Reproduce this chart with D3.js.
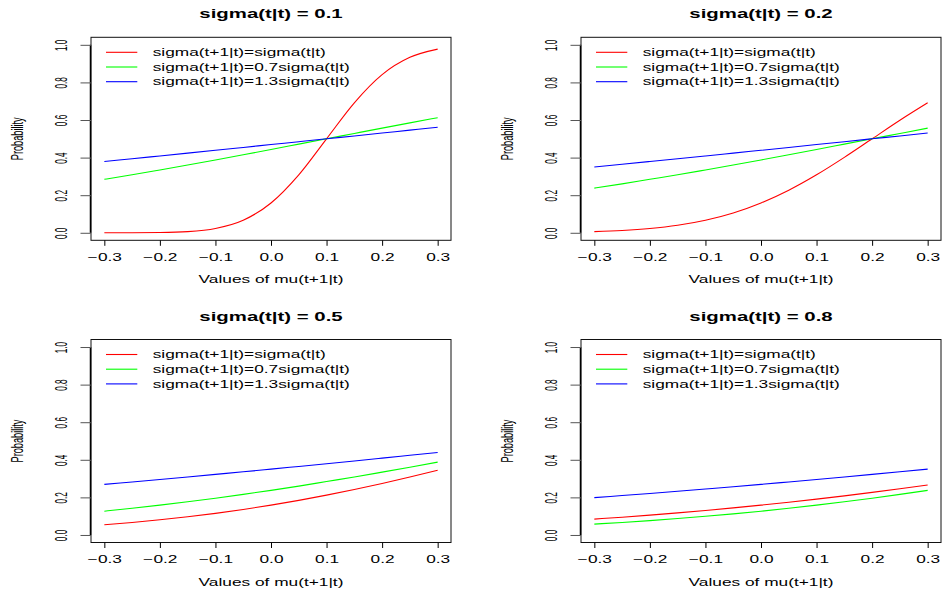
<!DOCTYPE html>
<html>
<head>
<meta charset="utf-8">
<script src="https://cdn.jsdelivr.net/npm/d3@7"></script>
<style>
  body { margin: 0; background: #fff; }
  svg { display: block; }
  text { font-family: "Liberation Sans", Arial, Helvetica, sans-serif; fill: #000; }
</style>
</head>
<body>
<svg id="chart"></svg>
<script>
//values of mu(t+1|t) on the x axis
var muValues = [-0.3, -0.25, -0.2, -0.15, -0.1, -0.05, 0, 0.05, 0.1, 0.15, 0.2, 0.25, 0.3];
var xTicks = [-0.3, -0.2, -0.1, 0, 0.1, 0.2, 0.3];
var yTicks = [0, 0.2, 0.4, 0.6, 0.8, 1];

var panelTitles = ['sigma(t|t) = 0.1', 'sigma(t|t) = 0.2', 'sigma(t|t) = 0.5', 'sigma(t|t) = 0.8'];
var legendLabels = ['sigma(t+1|t)=sigma(t|t)', 'sigma(t+1|t)=0.7sigma(t|t)', 'sigma(t+1|t)=1.3sigma(t|t)'];
var xLabel = 'Values of mu(t+1|t)';
var yLabel = 'Probability';

//probabilities (same, 0.7 and 1.3 sigma)
var sigma01Same   = [0.0000, 0.0002, 0.0013, 0.0062, 0.0228, 0.0668, 0.1587, 0.3085, 0.5000, 0.6915, 0.8413, 0.9332, 0.9772];
var sigma01Narrow = [0.2844, 0.3085, 0.3343, 0.3606, 0.3876, 0.4152, 0.4432, 0.4716, 0.5000, 0.5284, 0.5568, 0.5848, 0.6124];
var sigma01Wide   = [0.3792, 0.3939, 0.4088, 0.4238, 0.4389, 0.4541, 0.4694, 0.4847, 0.5000, 0.5153, 0.5306, 0.5459, 0.5611];

var sigma02Same   = [0.0062, 0.0122, 0.0228, 0.0401, 0.0668, 0.1056, 0.1587, 0.2266, 0.3085, 0.4013, 0.5000, 0.5987, 0.6915];
var sigma02Narrow = [0.2375, 0.2601, 0.2844, 0.3085, 0.3343, 0.3606, 0.3876, 0.4152, 0.4432, 0.4716, 0.5000, 0.5284, 0.5568];
var sigma02Wide   = [0.3503, 0.3647, 0.3792, 0.3939, 0.4088, 0.4238, 0.4389, 0.4541, 0.4694, 0.4847, 0.5000, 0.5153, 0.5306];

var sigma05Same   = [0.0548, 0.0668, 0.0808, 0.0968, 0.1151, 0.1357, 0.1587, 0.1841, 0.2119, 0.2420, 0.2743, 0.3085, 0.3446];
var sigma05Narrow = [0.1266, 0.1420, 0.1587, 0.1766, 0.1957, 0.2160, 0.2375, 0.2601, 0.2844, 0.3085, 0.3343, 0.3606, 0.3876];
var sigma05Wide   = [0.2691, 0.2820, 0.2951, 0.3085, 0.3222, 0.3361, 0.3503, 0.3647, 0.3792, 0.3939, 0.4088, 0.4238, 0.4389];

var sigma08Same   = [0.0846, 0.0947, 0.1056, 0.1175, 0.1303, 0.1440, 0.1587, 0.1743, 0.1908, 0.2083, 0.2266, 0.2459, 0.2660];
var sigma08Narrow = [0.0580, 0.0668, 0.0766, 0.0874, 0.0993, 0.1123, 0.1266, 0.1420, 0.1587, 0.1766, 0.1957, 0.2160, 0.2375];
var sigma08Wide   = [0.1988, 0.2097, 0.2208, 0.2325, 0.2444, 0.2566, 0.2691, 0.2820, 0.2951, 0.3085, 0.3222, 0.3361, 0.3503];

var panelSeries = [
    [sigma01Same, sigma01Narrow, sigma01Wide],
    [sigma02Same, sigma02Narrow, sigma02Wide],
    [sigma05Same, sigma05Narrow, sigma05Wide],
    [sigma08Same, sigma08Narrow, sigma08Wide]
];

var lineColors = ['#ff0000', '#00ff00', '#0000ff'];

var svg = d3.select('#chart')
    .attr('width', 944)
    .attr('height', 595);

//plot boxes of the 2x2 layout
var boxLefts = [91, 581],
    boxTops = [37.3, 339.5],
    boxWidth = 360,
    boxHeight = 203;

//text is drawn stretched like the original picture
var hStretch = 'scale(1.73,1)';

function drawPanel(i) {
    var left = boxLefts[i % 2],
        top = boxTops[Math.floor(i / 2)],
        bottom = top + boxHeight;

    var x = d3.scaleLinear().domain([-0.324, 0.324]).range([left, left + boxWidth]);
    var y = d3.scaleLinear().domain([-0.04, 1.04]).range([bottom, top]);

    var g = svg.append('g').attr('class', 'panel');

    //curves
    var line = d3.line()
        .x(function(d, j) { return x(muValues[j]); })
        .y(function(d) { return y(d); })
        .curve(d3.curveMonotoneX);

    g.selectAll('path.series')
        .data(panelSeries[i])
        .enter().append('path')
            .attr('class', 'series')
            .attr('fill', 'none')
            .attr('stroke', function(d, k) { return lineColors[k]; })
            .attr('stroke-width', 1.1)
            .attr('d', line);

    //box
    g.append('rect')
        .attr('x', left)
        .attr('y', top)
        .attr('width', boxWidth)
        .attr('height', boxHeight)
        .attr('fill', 'none')
        .attr('stroke', '#111')
        .attr('stroke-width', 1);

    //thicker y axis line along the left edge
    g.append('line')
        .attr('x1', left - 0.5).attr('x2', left - 0.5)
        .attr('y1', y(0)).attr('y2', y(1))
        .attr('stroke', '#000')
        .attr('stroke-width', 1.5);

    //x axis
    var xAxis = g.append('g')
        .attr('transform', 'translate(0,' + bottom + ')')
        .call(d3.axisBottom(x).tickValues(xTicks).tickSize(5.5).tickFormat(d3.format('.1f')));
    xAxis.select('.domain').remove();
    xAxis.selectAll('.tick line').attr('stroke', '#000');
    xAxis.selectAll('.tick text')
        .attr('y', null).attr('dy', null)
        .attr('font-size', 10)
        .attr('fill', '#000')
        .attr('transform', 'translate(0,20.5) ' + hStretch);

    //y axis
    var yAxis = g.append('g')
        .attr('transform', 'translate(' + left + ',0)')
        .call(d3.axisLeft(y).tickValues(yTicks).tickSize(10.5).tickFormat(d3.format('.1f')));
    yAxis.select('.domain').remove();
    yAxis.selectAll('.tick line').attr('stroke', '#555');
    yAxis.selectAll('.tick text')
        .attr('x', null).attr('dy', null)
        .attr('font-size', 10)
        .attr('fill', '#000')
        .attr('text-anchor', 'middle')
        .attr('transform', 'translate(-24.3,0) rotate(-90) scale(0.82,1.73)');

    //title
    g.append('text')
        .attr('transform', 'translate(' + (left + boxWidth / 2) + ',' + (top - 19) + ') scale(1.7,1)')
        .attr('text-anchor', 'middle')
        .attr('font-size', 12)
        .attr('font-weight', 'bold')
        .text(panelTitles[i]);

    //axis titles
    g.append('text')
        .attr('transform', 'translate(' + (left + boxWidth / 2) + ',' + (bottom + 43) + ') ' + hStretch)
        .attr('text-anchor', 'middle')
        .attr('font-size', 10)
        .text(xLabel);

    g.append('text')
        .attr('transform', 'translate(' + (left - 68) + ',' + (top + boxHeight / 2) + ') rotate(-90) scale(0.92,1.73)')
        .attr('text-anchor', 'middle')
        .attr('font-size', 10)
        .text(yLabel);

    //legend
    var legend = g.append('g')
        .attr('class', 'legend')
        .selectAll('g')
        .data(legendLabels)
        .enter().append('g')
            .attr('transform', function(d, k) { return 'translate(' + left + ',' + (top + 15 + k * 14.7) + ')'; });

    legend.append('line')
        .attr('x1', 15).attr('x2', 46.3)
        .attr('stroke', function(d, k) { return lineColors[k]; })
        .attr('stroke-width', 1.1);

    legend.append('text')
        .attr('transform', 'translate(61.7,3.6) ' + hStretch)
        .attr('font-size', 10)
        .text(function(d) { return d; });
}

for (var i = 0; i < 4; i++) drawPanel(i);
</script>
</body>
</html>
